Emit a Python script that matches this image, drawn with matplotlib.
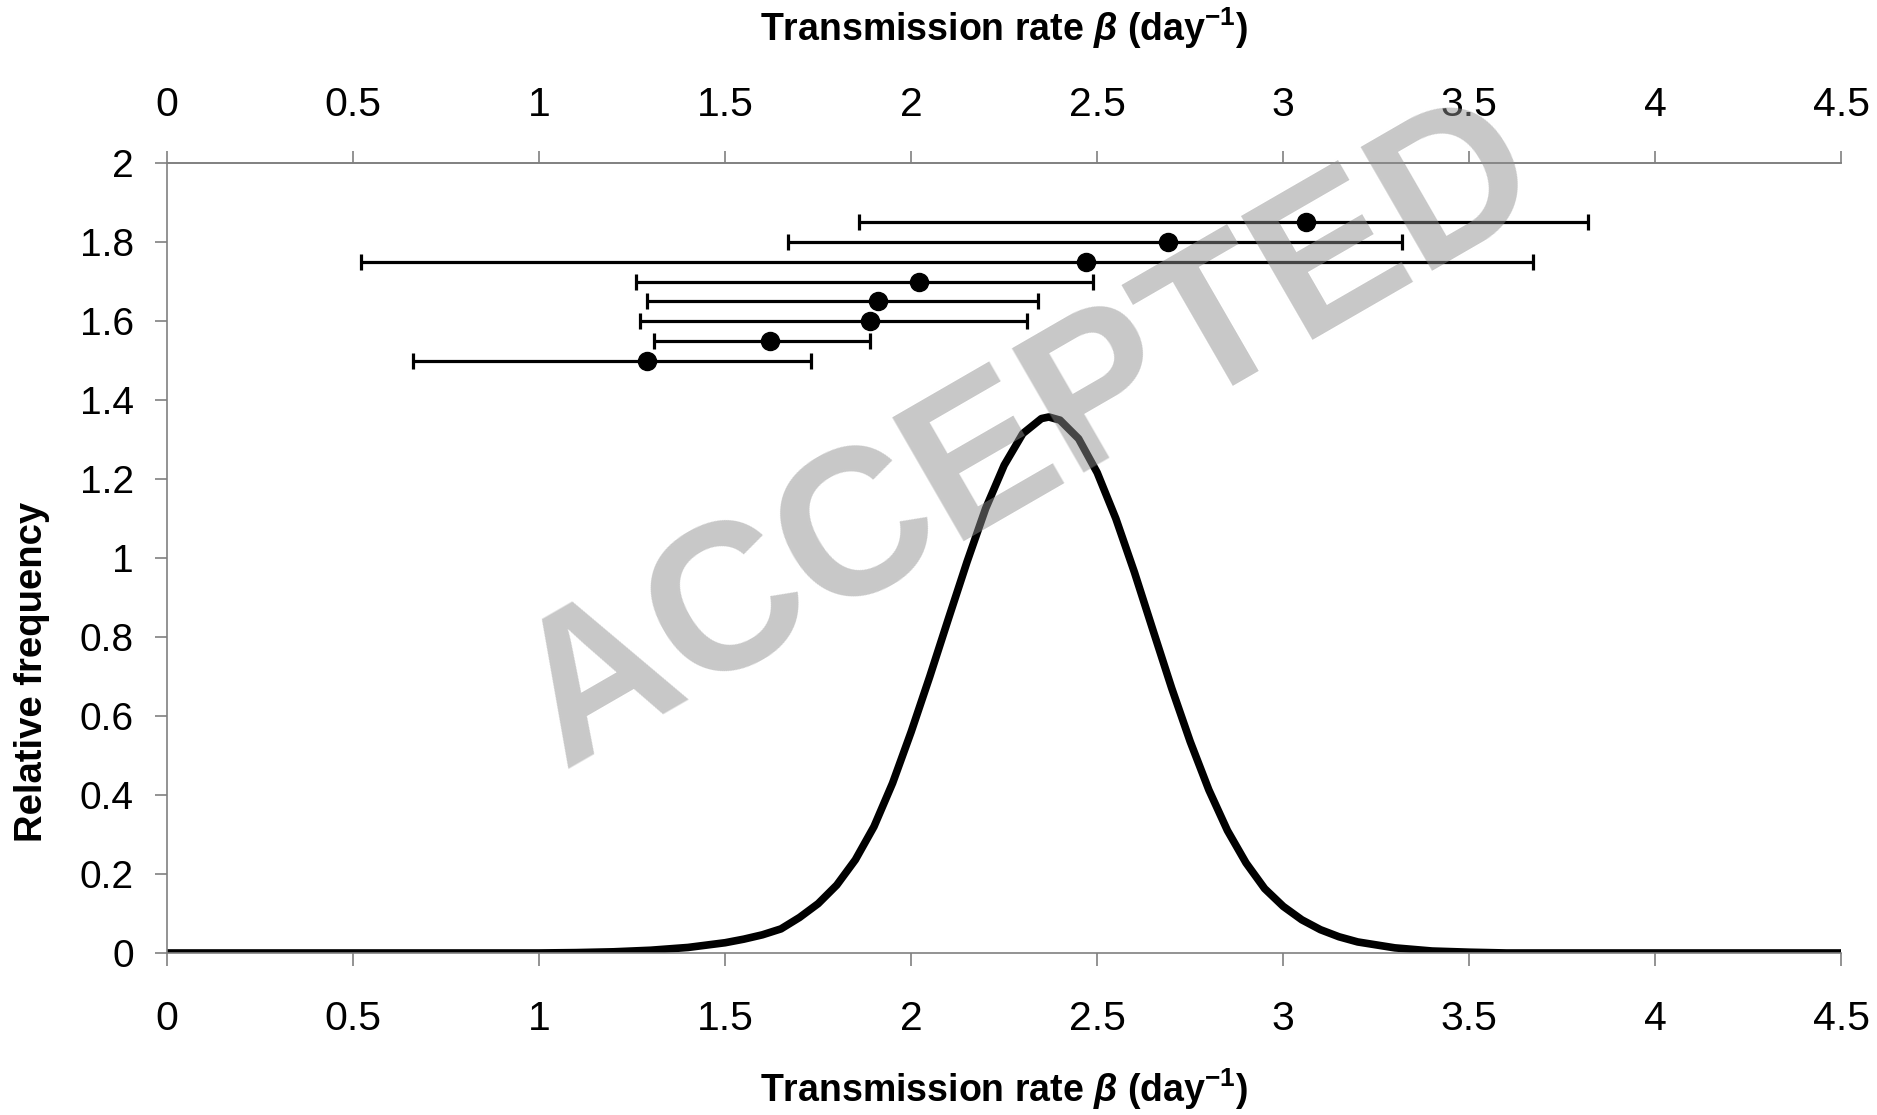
import matplotlib.pyplot as plt

plt.rcParams['font.family'] = ['Liberation Sans', 'DejaVu Sans']
plt.rcParams['mathtext.fontset'] = 'custom'
plt.rcParams['mathtext.rm'] = 'Liberation Sans:bold'
plt.rcParams['mathtext.it'] = 'Liberation Sans:italic:bold'
plt.rcParams['mathtext.bf'] = 'Liberation Sans:bold'

# density of beta
beta = [0.0, 1.0, 1.1, 1.2, 1.3, 1.4, 1.5, 1.55, 1.6, 1.65, 1.7, 1.75, 1.8,
        1.85, 1.9, 1.95, 2.0, 2.05, 2.1, 2.15, 2.2, 2.25, 2.3, 2.35, 2.37,
        2.4, 2.45, 2.5, 2.55, 2.6, 2.65, 2.7, 2.75, 2.8, 2.85, 2.9, 2.95,
        3.0, 3.05, 3.1, 3.15, 3.2, 3.3, 3.4, 3.5, 3.6, 4.5]
freq = [0.0, 0.0, 0.001, 0.003, 0.007, 0.014, 0.026, 0.035, 0.046, 0.061,
        0.09, 0.125, 0.172, 0.236, 0.32, 0.43, 0.56, 0.70, 0.846, 0.99,
        1.125, 1.235, 1.315, 1.353, 1.357, 1.349, 1.302, 1.216, 1.10, 0.964,
        0.817, 0.671, 0.535, 0.413, 0.31, 0.228, 0.163, 0.118, 0.084, 0.059,
        0.041, 0.028, 0.013, 0.005, 0.002, 0.0, 0.0]

# point estimates with intervals
est = [1.29, 1.62, 1.89, 1.91, 2.02, 2.47, 2.69, 3.06]
low = [0.66, 1.31, 1.27, 1.29, 1.26, 0.52, 1.67, 1.86]
high = [1.73, 1.89, 2.31, 2.34, 2.49, 3.67, 3.32, 3.82]
row = [1.50, 1.55, 1.60, 1.65, 1.70, 1.75, 1.80, 1.85]

xticks = [0, 0.5, 1, 1.5, 2, 2.5, 3, 3.5, 4, 4.5]
xticklabels = ['0', '0.5', '1', '1.5', '2', '2.5', '3', '3.5', '4', '4.5']
yticks = [0, 0.2, 0.4, 0.6, 0.8, 1, 1.2, 1.4, 1.6, 1.8, 2]
yticklabels = ['0', '0.2', '0.4', '0.6', '0.8', '1', '1.2', '1.4', '1.6', '1.8', '2']

xlabel = r'Transmission rate $\beta$ (day$^{\mathrm{-1}}$)'

fig = plt.figure(figsize=(18.77, 11.15), dpi=100)
ax = fig.add_axes([0.089, 0.1453, 0.892, 0.7085])

ax.plot(beta, freq, color='black', linewidth=5.5, solid_joinstyle='round')

xerr = [[e - l for e, l in zip(est, low)], [h - e for e, h in zip(est, high)]]
ax.errorbar(est, row, xerr=xerr, fmt='o', color='black', markersize=13,
            elinewidth=2.3, capsize=6, capthick=2.3)

ax.set_xlim(0, 4.5)
ax.set_ylim(0, 2)

gray = '#808080'
for side in ['left', 'bottom', 'top']:
    ax.spines[side].set_color(gray)
    ax.spines[side].set_linewidth(1.2)
ax.spines['right'].set_visible(False)

ax.set_xticks(xticks)
ax.set_xticklabels(xticklabels)
ax.set_yticks(yticks)
ax.set_yticklabels(yticklabels)
ax.tick_params(axis='x', direction='out', length=9, width=1.2, color=gray,
               labelsize=29.5, pad=25)
ax.tick_params(axis='y', direction='out', length=9, width=1.2, color=gray,
               labelsize=28, pad=15)

top = ax.secondary_xaxis('top')
top.set_xticks(xticks)
top.set_xticklabels(xticklabels)
top.spines['top'].set_color(gray)
top.spines['top'].set_linewidth(1.2)
top.tick_params(direction='out', length=9, width=1.2, color=gray,
                labelsize=29.5, pad=19)

fig.text(0.535, 0.0117, xlabel, fontsize=27, fontweight='bold',
         ha='center', va='baseline')
fig.text(0.535, 0.9632, xlabel, fontsize=27, fontweight='bold',
         ha='center', va='baseline')
fig.text(0.017, 0.397, 'Relative frequency', fontsize=27.5, fontweight='bold',
         rotation=90, ha='center', va='center')

# watermark
fig.text(0.549, 0.607, 'ACCEPTED', fontsize=149, fontweight='bold',
         color='#8f8f8f', alpha=0.49, rotation=30, rotation_mode='anchor',
         ha='center', va='center', zorder=10)

plt.savefig('out.png', dpi=100)
